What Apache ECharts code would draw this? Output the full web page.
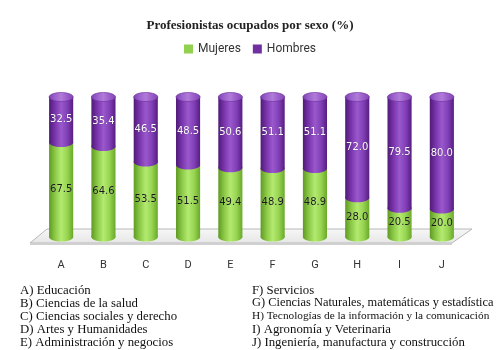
<!DOCTYPE html>
<html><head><meta charset="utf-8">
<script src="https://cdn.jsdelivr.net/npm/echarts@6/dist/echarts.min.js"></script>
<style>html,body{margin:0;padding:0;background:#fff}#c{width:500px;height:350px}</style>
</head><body><div id="c"></div>
<script>
const categories = ['A','B','C','D','E','F','G','H','I','J'];
const mujeres = [67.5, 64.6, 53.5, 51.5, 49.4, 48.9, 48.9, 28.0, 20.5, 20.0];
const hombres = [32.5, 35.4, 46.5, 48.5, 50.6, 51.1, 51.1, 72.0, 79.5, 80.0];
const notesLeft = ['A) Educación','B) Ciencias de la salud','C) Ciencias sociales y derecho','D) Artes y Humanidades','E) Administración y negocios'];
const notesRight = ['F) Servicios','G) Ciencias Naturales, matemáticas y estadística','H) Tecnologías de la información y la comunicación','I) Agronomía y Veterinaria','J) Ingeniería, manufactura y construcción'];

const G = echarts.graphic;
function hGrad(stops){ return new G.LinearGradient(0,0,1,0, stops.map((c,i)=>({offset:i/(stops.length-1), color:c}))); }
const greenBody = ['#5f9a22','#8cc947','#b3ea70','#98d552','#6aa82a'];
const purpleBody = ['#4f1a78','#7a35ad','#9a58cc','#8240b8','#561d80'];
const purpleCap = ['#7a3fb0','#9c62cc','#b07ad9','#9a5cc8','#7f45b3'];

function makeRender(isTop){
  return function(params, api){
    const i = api.value(0), lo = api.value(1), hi = api.value(2);
    const pLo = api.coord([i, lo]), pHi = api.coord([i, hi]);
    const bw = api.size([1,0])[0]*0.57, rx = bw/2, ry = 4.5;
    const cx = pLo[0];
    const body = isTop ? purpleBody : greenBody;
    const children = [
      {type:'ellipse', shape:{cx:cx, cy:pLo[1], rx:rx, ry:ry}, style:{fill:hGrad(body)}},
      {type:'rect', shape:{x:cx-rx, y:pHi[1], width:bw, height:pLo[1]-pHi[1]}, style:{fill:hGrad(body)}}
    ];
    if(isTop){
      children.push({type:'ellipse', shape:{cx:cx, cy:pHi[1], rx:rx, ry:ry}, style:{fill:hGrad(purpleCap), stroke:'#6a2a9c', lineWidth:0.6}});
    }
    children.push({type:'text', style:{
      text:(hi-lo).toFixed(1), x:cx, y:(pLo[1]+pHi[1])/2, align:'center', verticalAlign:'middle',
      fill: isTop ? '#ffffff' : '#1a1a1a', font:'10px "DejaVu Sans"',
      textShadowColor: isTop ? 'rgba(0,0,0,0.5)' : 'rgba(255,255,255,0.3)', textShadowBlur: 1
    }});
    return {type:'group', children:children};
  };
}

const mData = categories.map((c,i)=>[i, 0, mujeres[i]]);
const hData = categories.map((c,i)=>[i, mujeres[i], mujeres[i]+hombres[i]]);

const rightSizes = ['12.8px','12.4px','11.3px','12.8px','12.8px'];
const noteEls = [];
notesLeft.forEach((t,k)=>noteEls.push({type:'text', left:20, top:284+k*13, z:10, style:{text:t, font:'12.8px "Liberation Serif"', fill:'#111'}}));
notesRight.forEach((t,k)=>noteEls.push({type:'text', left:252, top:(k===2?285:284)+k*13, z:10, style:{text:t, font:rightSizes[k]+' "Liberation Serif"', fill:'#111'}}));

const chart = echarts.init(document.getElementById('c'), null, {renderer:'canvas'});
chart.setOption({
  animation:false,
  backgroundColor:'#ffffff',
  title:{text:'Profesionistas ocupados por sexo (%)', left:'center', top:14,
    textStyle:{fontFamily:'Liberation Serif', fontWeight:'bold', fontSize:13, color:'#222'}},
  legend:{top:38, left:'center', itemWidth:9, itemHeight:9, itemGap:12, icon:'rect',
    textStyle:{fontFamily:'Roboto', fontSize:12, color:'#333'},
    data:[{name:'Mujeres', itemStyle:{color:'#92d050'}},{name:'Hombres', itemStyle:{color:'#7030a0'}}]},
  grid:{left:40, right:37, top:97, bottom:113},
  xAxis:{type:'category', data:categories, axisLine:{show:false}, axisTick:{show:false},
    axisLabel:{margin:23, fontFamily:'Roboto', fontSize:11, color:'#333'}},
  yAxis:{type:'value', min:0, max:100, show:false},
  graphic:[
    {type:'polygon', z:0, shape:{points:[[47,229],[472,229],[452,243],[30,243]]},
      style:{fill:new G.LinearGradient(0,0,0,1,[{offset:0,color:'#f7f7f7'},{offset:1,color:'#e6e6e6'}]), stroke:'#b8b8b8', lineWidth:1}},
    {type:'polygon', z:0, shape:{points:[[30,243],[452,243],[452,245],[30,245]]}, style:{fill:'#d0d0d0'}}
  ].concat(noteEls),
  series:[
    {name:'Mujeres', type:'custom', z:2, renderItem:makeRender(false), data:mData, encode:{x:0, y:[1,2]}, itemStyle:{color:'#92d050'}},
    {name:'Hombres', type:'custom', z:3, renderItem:makeRender(true), data:hData, encode:{x:0, y:[1,2]}, itemStyle:{color:'#7030a0'}}
  ]
});
</script></body></html>
